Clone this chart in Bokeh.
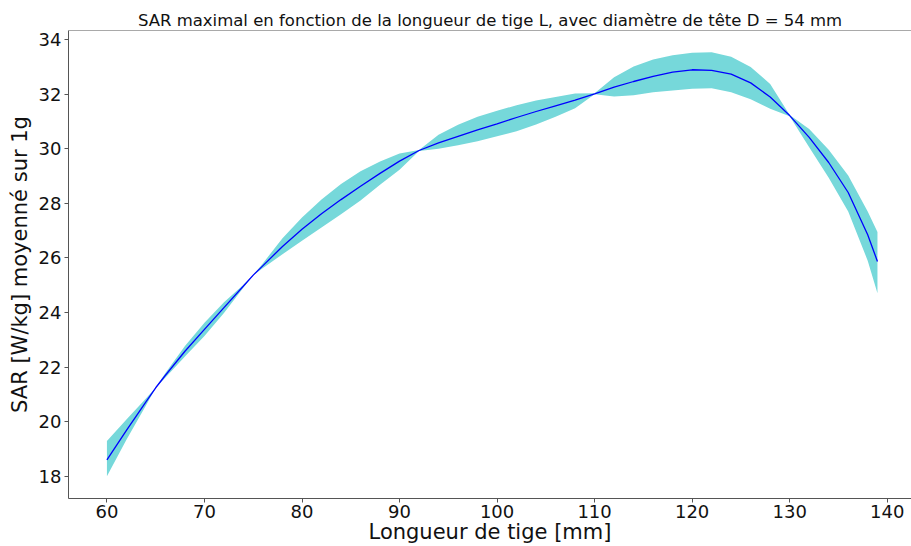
from bokeh.plotting import figure
from bokeh.models import ColumnDataSource, FixedTicker, Range1d, Span
from bokeh.embed import file_html
from bokeh.resources import INLINE

# Stem length [mm]
x_mm = [60, 62, 64, 65, 66, 68, 70, 72, 74, 75, 76, 78, 80, 82, 84, 86, 88, 90, 92,
        94, 96, 98, 100, 102, 104, 106, 108, 110, 112, 114, 116, 118, 120, 122,
        124, 126, 128, 130, 132, 134, 136, 138, 139]
# Mean max SAR [W/kg] averaged over 1 g
sar_mean = [18.60, 19.68, 20.72, 21.24, 21.70, 22.58, 23.38, 24.18, 24.97, 25.37, 25.72,
            26.42, 27.05, 27.62, 28.14, 28.63, 29.10, 29.55, 29.94, 30.22, 30.46, 30.70,
            30.92, 31.15, 31.37, 31.58, 31.79, 32.02, 32.26, 32.47, 32.66, 32.81, 32.90,
            32.88, 32.74, 32.42, 31.90, 31.22, 30.42, 29.50, 28.40, 26.85, 25.87]
# Band edges
sar_upper = [19.29, 20.08, 20.85, 21.25, 21.78, 22.77, 23.62, 24.38, 25.02, 25.38, 25.81,
             26.72, 27.48, 28.14, 28.71, 29.18, 29.54, 29.83, 29.96, 30.52, 30.88, 31.18,
             31.40, 31.60, 31.77, 31.90, 32.03, 32.04, 32.63, 33.02, 33.28, 33.43, 33.52,
             33.54, 33.38, 33.00, 32.38, 31.24, 30.73, 29.97, 29.02, 27.70, 26.95]
sar_lower = [18.00, 19.33, 20.59, 21.23, 21.62, 22.39, 23.14, 23.98, 24.92, 25.36, 25.63,
             26.14, 26.63, 27.12, 27.60, 28.11, 28.68, 29.23, 29.92, 30.00, 30.13, 30.28,
             30.46, 30.65, 30.89, 31.18, 31.49, 32.00, 31.92, 31.97, 32.08, 32.14, 32.20,
             32.22, 32.08, 31.82, 31.47, 31.20, 30.06, 28.94, 27.70, 25.90, 24.71]

x_ticks = [60, 70, 80, 90, 100, 110, 120, 130, 140]
y_ticks = [18, 20, 22, 24, 26, 28, 30, 32, 34]

title_text = "SAR maximal en fonction de la longueur de tige L, avec diamètre de tête D = 54 mm"
x_label = "Longueur de tige [mm]"
y_label = "SAR [W/kg] moyenné sur 1g"

FONT = "DejaVu Sans"
SPINE = "#555555"

src = ColumnDataSource(dict(x=x_mm, mean=sar_mean, up=sar_upper, lo=sar_lower))

y_end = 34.34
p = figure(width=911, height=546, output_backend="svg", toolbar_location=None,
           x_range=Range1d(56.06, 142.49), y_range=Range1d(17.18, y_end),
           min_border_left=68, min_border_right=0, min_border_top=30, min_border_bottom=48)

p.varea(x="x", y1="lo", y2="up", source=src, fill_color="#76d8da", fill_alpha=1.0)
p.line(x="x", y="mean", source=src, line_color="#0000ff", line_width=1.3)

p.title.text = title_text
p.title.align = "center"
p.title.offset = 2
p.title.text_font = FONT
p.title.text_font_size = "16.5px"
p.title.text_font_style = "normal"
p.title.text_color = "#111111"
p.title.standoff = 2

p.outline_line_color = None
p.add_layout(Span(location=y_end, dimension="width", line_color=SPINE, line_width=1))
p.xgrid.visible = False
p.ygrid.visible = False

for ax in (p.xaxis[0], p.yaxis[0]):
    ax.axis_line_color = SPINE
    ax.major_tick_line_color = SPINE
    ax.major_tick_out = 4
    ax.major_tick_in = 0
    ax.minor_tick_line_color = None
    ax.major_label_text_font = FONT
    ax.major_label_text_font_size = "18px"
    ax.major_label_text_color = "#111111"
    ax.axis_label_text_font = FONT
    ax.axis_label_text_font_size = "21px"
    ax.axis_label_text_font_style = "normal"
    ax.axis_label_text_color = "#111111"

p.xaxis[0].major_label_standoff = 2
p.xaxis[0].axis_label_standoff = -1
p.yaxis[0].major_label_standoff = 3
p.yaxis[0].axis_label_standoff = 4

p.xaxis[0].ticker = FixedTicker(ticks=x_ticks)
p.yaxis[0].ticker = FixedTicker(ticks=y_ticks)
p.xaxis[0].axis_label = x_label
p.yaxis[0].axis_label = y_label

open("out.html", "w").write(file_html(p, INLINE))
